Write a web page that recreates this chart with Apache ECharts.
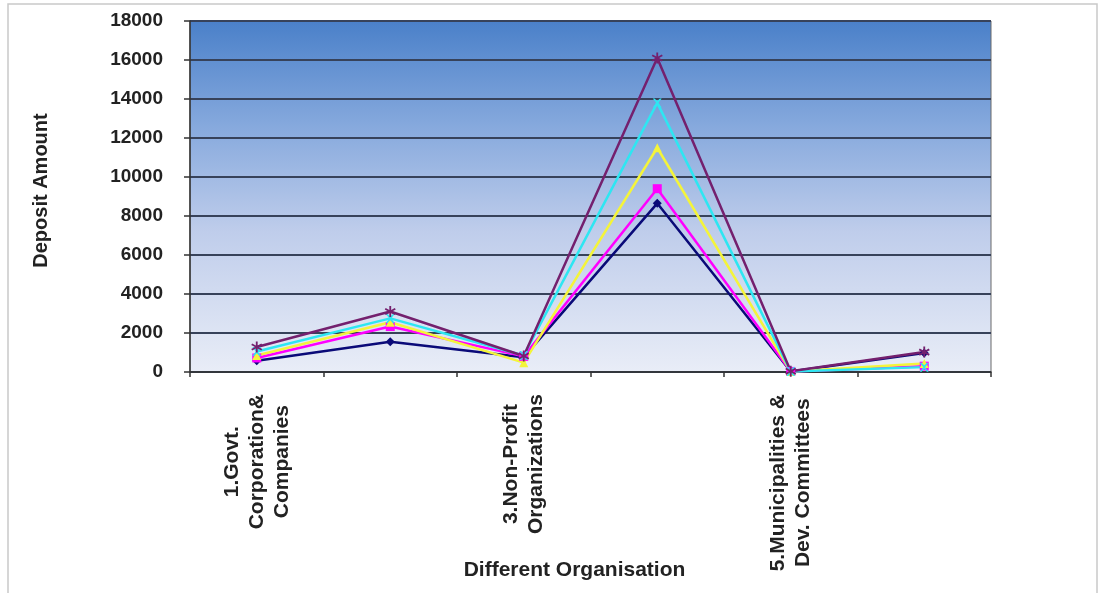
<!DOCTYPE html>
<html>
<head>
<meta charset="utf-8">
<script src="https://cdn.jsdelivr.net/npm/echarts@6/dist/echarts.min.js"></script>
<style>
  html, body { margin: 0; padding: 0; background: #ffffff; }
  #chart { width: 1101px; height: 593px; }
</style>
</head>
<body>
<div id="chart"></div>
<script>
// Organisation categories (only odd ones carry a visible label on the axis)
const categories = [
  '1.Govt.\nCorporation&\nCompanies',
  '2.Private\nSector',
  '3.Non-Profit\nOrganizations',
  '4.Individuals',
  '5.Municipalities &\nDev. Committees',
  '6.Others'
];

// Deposit amounts per series
const seriesA = [580, 1550, 760, 8650, 30, 980];
const seriesB = [720, 2330, 800, 9400, 30, 300];
const seriesC = [850, 2550, 480, 11500, 20, 430];
const seriesD = [1050, 2750, 850, 13800, 20, 250];
const seriesE = [1280, 3100, 820, 16100, 40, 1020];

const yTicks = { min: 0, max: 18000, step: 2000 };

const FONT = "'Liberation Sans', Arial, sans-serif";

const crossPath = 'path://M0,0 L2,0 L5,3 L8,0 L10,0 L6,5 L10,10 L8,10 L5,7 L2,10 L0,10 L4,5 Z';
const starPath = 'path://M4.2,0 L5.8,0 L5.8,3.6 L9,1.8 L9.8,3.2 L6.6,5 L9.8,6.8 L9,8.2 L5.8,6.4 L5.8,10 L4.2,10 L4.2,6.4 L1,8.2 L0.2,6.8 L3.4,5 L0.2,3.2 L1,1.8 L4.2,3.6 Z';

function line(data, color, symbol, size) {
  return {
    type: 'line',
    data: data,
    symbol: symbol,
    symbolSize: size,
    showSymbol: true,
    lineStyle: { color: color, width: 2.5 },
    itemStyle: { color: color },
    emphasis: { disabled: true },
    z: 3
  };
}

const chart = echarts.init(document.getElementById('chart'), null, { renderer: 'canvas' });

chart.setOption({
  animation: false,
  backgroundColor: '#ffffff',
  graphic: [{
    type: 'rect',
    shape: { x: 8, y: 4, width: 1089, height: 620 },
    style: { fill: 'none', stroke: '#c9c9c9', lineWidth: 1.5 },
    silent: true,
    z: -1
  }],
  grid: {
    left: 190, right: 110, top: 21, bottom: 221,
    outerBoundsMode: 'none',
    show: true,
    borderColor: '#6b6b6b',
    borderWidth: 1,
    backgroundColor: new echarts.graphic.LinearGradient(0, 0, 0, 1, [
      { offset: 0, color: '#4a80c9' },
      { offset: 0.3, color: '#86a9dd' },
      { offset: 0.6, color: '#bfcdeb' },
      { offset: 1, color: '#e9edf7' }
    ])
  },
  xAxis: {
    type: 'category',
    data: categories,
    boundaryGap: true,
    name: 'Different Organisation',
    nameLocation: 'middle',
    nameGap: 188,
    nameMoveOverlap: false,
    nameTextStyle: {
      fontFamily: FONT, fontWeight: 'bold', fontSize: 21, color: '#222',
      padding: [0, 32, 0, 0]
    },
    axisLine: { lineStyle: { color: '#333', width: 1.5 } },
    axisTick: { show: true, inside: false, length: 5, alignWithLabel: false, interval: 0,
      lineStyle: { color: '#333', width: 1.5 } },
    splitLine: { show: false },
    axisLabel: {
      interval: 1,
      rotate: 90,
      margin: 22,
      fontFamily: FONT, fontWeight: 'bold', fontSize: 21, color: '#222',
      lineHeight: 25,
      // each line is wrapped in a centred rich token so the lines sit centred on each other
      formatter: function (v) {
        return v.split('\n').map(function (s) { return '{c|' + s + '}'; }).join('\n');
      },
      rich: {
        c: { align: 'center', fontFamily: FONT, fontWeight: 'bold', fontSize: 21, color: '#222', lineHeight: 25 }
      }
    }
  },
  yAxis: {
    type: 'value',
    min: yTicks.min,
    max: yTicks.max,
    interval: yTicks.step,
    name: 'Deposit Amount',
    nameLocation: 'middle',
    nameGap: 139,
    nameRotate: 90,
    nameMoveOverlap: false,
    nameTextStyle: { fontFamily: FONT, fontWeight: 'bold', fontSize: 20, color: '#222',
      padding: [0, 0, 0, 12] },
    axisLine: { show: true, lineStyle: { color: '#333', width: 1.5 } },
    axisTick: { show: true, length: 6, lineStyle: { color: '#333', width: 1.5 } },
    axisLabel: {
      margin: 27,
      fontFamily: FONT, fontWeight: 'bold', fontSize: 19, color: '#222',
      formatter: function (v) { return String(v); }
    },
    splitLine: { show: true, lineStyle: { color: '#37425a', width: 2 } }
  },
  series: [
    line(seriesA, '#0a0a78', 'diamond', 9),
    line(seriesB, '#ff00ff', 'rect', 9),
    line(seriesC, '#f4f43a', 'triangle', 9),
    line(seriesD, '#2ee6f2', crossPath, 9),
    line(seriesE, '#74206e', starPath, 11)
  ]
});
</script>
</body>
</html>
